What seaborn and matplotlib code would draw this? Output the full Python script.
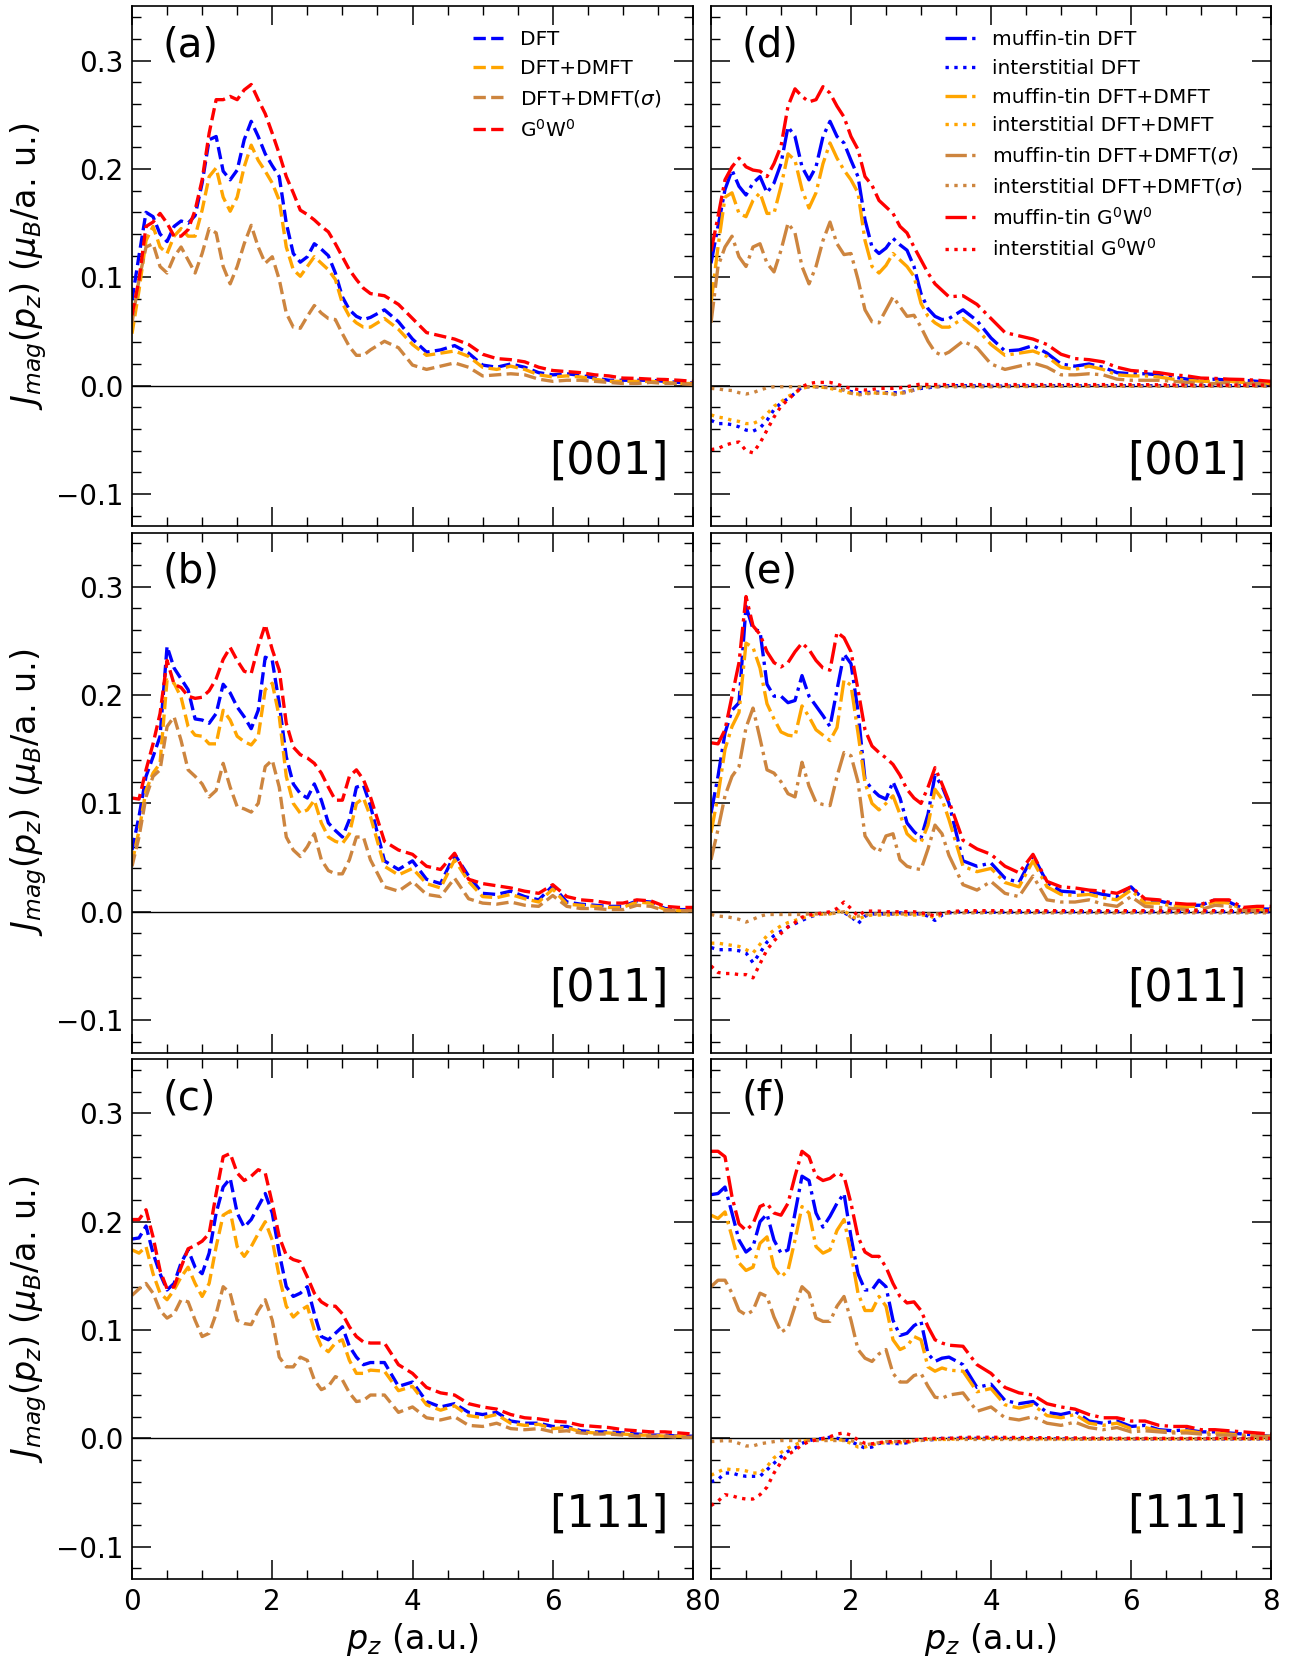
import numpy as np
import matplotlib
matplotlib.use("Agg")
import matplotlib.pyplot as plt
import seaborn as sns
from matplotlib.ticker import MultipleLocator

# ---------------- sampling grids (p_z in a.u.) ----------------
PZ = np.round(np.r_[np.arange(0.0, 3.45, 0.1), np.arange(3.6, 8.01, 0.2)], 2)      # 58 points
PZ_IS = np.round(np.r_[np.arange(0.0, 3.45, 0.1), [3.6, 4.0, 5.0, 6.0, 7.0, 8.0]], 2)  # 41 points

# ---------------- [001] total (panel a) ----------------
a_dft = [0.079,0.120,0.160,0.156,0.140,0.133,0.147,0.152,0.150,0.157,
         0.187,0.227,0.230,0.198,0.190,0.199,0.227,0.244,0.230,0.214,
         0.203,0.193,0.150,0.122,0.114,0.119,0.131,0.126,0.120,0.104,
         0.082,0.070,0.064,0.061,0.063,
         0.070,0.059,0.043,0.031,0.033,0.037,0.030,0.019,0.017,0.020,
         0.017,0.012,0.010,0.011,0.0095,0.007,0.005,0.005,0.005,0.005,
         0.004,0.003,0.0025]
a_dmft = [0.048,0.088,0.134,0.147,0.128,0.122,0.138,0.145,0.138,0.138,
          0.162,0.193,0.201,0.174,0.161,0.174,0.202,0.222,0.208,0.198,
          0.187,0.171,0.128,0.107,0.101,0.110,0.119,0.113,0.107,0.098,
          0.076,0.064,0.058,0.054,0.054,
          0.062,0.052,0.038,0.028,0.030,0.032,0.027,0.017,0.015,0.018,
          0.015,0.010,0.008,0.009,0.008,0.006,0.004,0.004,0.004,0.004,
          0.003,0.002,0.002]
a_sig = [0.058,0.098,0.128,0.131,0.110,0.104,0.119,0.128,0.116,0.104,
         0.122,0.145,0.141,0.110,0.094,0.110,0.131,0.148,0.128,0.113,
         0.119,0.098,0.067,0.054,0.053,0.064,0.074,0.067,0.062,0.061,
         0.048,0.036,0.028,0.028,0.033,
         0.041,0.035,0.019,0.015,0.018,0.021,0.017,0.009,0.010,0.011,
         0.010,0.006,0.004,0.005,0.005,0.004,0.003,0.002,0.002,0.003,
         0.002,0.002,0.001]
a_gw = [0.065,0.098,0.147,0.151,0.159,0.150,0.138,0.138,0.144,0.162,
        0.190,0.233,0.264,0.264,0.267,0.264,0.273,0.278,0.264,0.251,
        0.233,0.214,0.193,0.178,0.162,0.158,0.153,0.147,0.142,0.131,
        0.119,0.107,0.098,0.090,0.085,
        0.083,0.075,0.062,0.049,0.046,0.043,0.038,0.029,0.025,0.024,
        0.022,0.017,0.014,0.013,0.012,0.010,0.009,0.007,0.0067,0.006,
        0.0057,0.005,0.004]

# ---------------- [011] total (panel b) ----------------
b_dft = [0.057,0.088,0.125,0.143,0.162,0.245,0.225,0.215,0.205,0.178,
         0.177,0.174,0.183,0.210,0.202,0.189,0.180,0.169,0.186,0.235,
         0.232,0.192,0.143,0.118,0.109,0.105,0.118,0.103,0.082,0.075,
         0.069,0.085,0.115,0.117,0.098,
         0.047,0.039,0.047,0.030,0.026,0.053,0.033,0.017,0.016,0.019,
         0.014,0.011,0.024,0.009,0.007,0.006,0.005,0.005,0.010,0.009,
         0.003,0.002,0.002]
b_dmft = [0.045,0.075,0.112,0.128,0.137,0.214,0.211,0.198,0.171,0.163,
          0.162,0.155,0.155,0.186,0.177,0.162,0.157,0.154,0.162,0.205,
          0.211,0.180,0.125,0.100,0.091,0.094,0.103,0.082,0.069,0.065,
          0.063,0.072,0.100,0.105,0.088,
          0.042,0.034,0.040,0.026,0.022,0.048,0.028,0.014,0.013,0.016,
          0.012,0.009,0.021,0.007,0.006,0.005,0.004,0.004,0.009,0.008,
          0.002,0.001,0.001]
b_sig = [0.042,0.069,0.106,0.125,0.131,0.171,0.180,0.158,0.131,0.125,
         0.118,0.106,0.112,0.137,0.115,0.097,0.095,0.092,0.100,0.134,
         0.140,0.115,0.069,0.057,0.051,0.060,0.072,0.048,0.038,0.035,
         0.035,0.048,0.069,0.069,0.048,
         0.023,0.019,0.028,0.016,0.014,0.031,0.012,0.008,0.007,0.009,
         0.006,0.005,0.015,0.005,0.003,0.003,0.002,0.002,0.006,0.005,
         0.001,0.001,0.001]
b_gw = [0.105,0.104,0.131,0.155,0.183,0.232,0.210,0.207,0.199,0.197,
        0.198,0.204,0.215,0.233,0.244,0.232,0.222,0.220,0.245,0.265,
        0.242,0.223,0.174,0.152,0.145,0.142,0.137,0.128,0.115,0.103,
        0.103,0.125,0.131,0.122,0.106,
        0.065,0.057,0.053,0.042,0.039,0.054,0.030,0.026,0.024,0.022,
        0.019,0.017,0.025,0.014,0.011,0.010,0.008,0.008,0.011,0.010,
        0.005,0.004,0.004]

# ---------------- [111] total (panel c) ----------------
c_dft = [0.184,0.185,0.196,0.171,0.152,0.137,0.143,0.162,0.174,0.158,
         0.152,0.171,0.208,0.232,0.240,0.208,0.195,0.202,0.214,0.226,
         0.208,0.171,0.140,0.131,0.134,0.140,0.115,0.094,0.091,0.097,
         0.103,0.085,0.075,0.068,0.070,
         0.070,0.048,0.052,0.034,0.029,0.032,0.024,0.022,0.024,0.016,
         0.014,0.014,0.011,0.011,0.007,0.006,0.006,0.005,0.004,0.003,
         0.003,0.002,0.002]
c_dmft = [0.174,0.171,0.177,0.152,0.134,0.128,0.137,0.149,0.158,0.143,
          0.131,0.143,0.177,0.206,0.210,0.177,0.168,0.177,0.189,0.200,
          0.183,0.149,0.122,0.112,0.118,0.122,0.100,0.085,0.080,0.088,
          0.091,0.072,0.060,0.060,0.063,
          0.062,0.044,0.048,0.031,0.026,0.030,0.021,0.019,0.022,0.014,
          0.012,0.013,0.009,0.010,0.006,0.005,0.005,0.004,0.003,0.003,
          0.002,0.002,0.0015]
c_sig = [0.132,0.138,0.143,0.134,0.118,0.111,0.115,0.128,0.126,0.109,
         0.094,0.097,0.115,0.140,0.134,0.109,0.106,0.105,0.118,0.128,
         0.109,0.075,0.066,0.066,0.075,0.072,0.054,0.045,0.048,0.057,
         0.054,0.042,0.034,0.035,0.040,
         0.040,0.024,0.029,0.019,0.017,0.020,0.012,0.011,0.014,0.009,
         0.008,0.009,0.006,0.007,0.005,0.004,0.004,0.003,0.002,0.002,
         0.002,0.001,0.001]
c_gw = [0.202,0.202,0.211,0.186,0.155,0.138,0.140,0.158,0.175,0.178,
        0.182,0.189,0.226,0.260,0.263,0.245,0.238,0.242,0.248,0.245,
        0.217,0.186,0.169,0.165,0.163,0.149,0.134,0.126,0.122,0.122,
        0.115,0.103,0.094,0.089,0.088,
        0.088,0.068,0.060,0.047,0.042,0.040,0.032,0.029,0.027,0.022,
        0.019,0.018,0.016,0.015,0.012,0.011,0.010,0.008,0.007,0.006,
        0.006,0.005,0.004]

# ---------------- [001] muffin-tin / interstitial (panel d) ----------------
d_mt_dft = [0.113,0.147,0.181,0.199,0.184,0.176,0.187,0.193,0.178,0.187,
            0.205,0.239,0.230,0.202,0.190,0.202,0.230,0.244,0.230,0.224,
            0.208,0.193,0.153,0.128,0.122,0.127,0.136,0.130,0.125,0.110,
            0.085,0.071,0.064,0.061,0.062,
            0.070,0.060,0.044,0.032,0.033,0.037,0.030,0.020,0.018,0.020,
            0.017,0.012,0.011,0.011,0.010,0.008,0.006,0.005,0.006,0.005,
            0.005,0.004,0.003]
d_mt_dmft = [0.076,0.128,0.174,0.178,0.159,0.156,0.171,0.178,0.159,0.159,
             0.184,0.214,0.208,0.181,0.164,0.178,0.205,0.224,0.210,0.199,
             0.190,0.178,0.134,0.110,0.104,0.111,0.122,0.116,0.110,0.101,
             0.076,0.064,0.058,0.054,0.054,
             0.062,0.052,0.038,0.028,0.030,0.032,0.027,0.017,0.015,0.018,
             0.015,0.010,0.009,0.009,0.008,0.006,0.005,0.004,0.004,0.004,
             0.003,0.003,0.002]
d_mt_sig = [0.058,0.110,0.128,0.138,0.119,0.110,0.128,0.131,0.113,0.105,
            0.125,0.150,0.141,0.110,0.094,0.110,0.134,0.151,0.131,0.121,
            0.122,0.098,0.070,0.059,0.058,0.070,0.082,0.073,0.064,0.065,
            0.054,0.041,0.031,0.028,0.031,
            0.041,0.035,0.020,0.015,0.018,0.021,0.017,0.010,0.010,0.011,
            0.010,0.006,0.005,0.005,0.005,0.004,0.003,0.002,0.002,0.003,
            0.002,0.002,0.001]
d_mt_gw = [0.124,0.156,0.190,0.202,0.210,0.202,0.199,0.198,0.193,0.205,
           0.221,0.258,0.274,0.267,0.262,0.264,0.276,0.270,0.258,0.248,
           0.230,0.218,0.193,0.185,0.171,0.165,0.159,0.147,0.141,0.128,
           0.116,0.104,0.094,0.088,0.082,
           0.083,0.075,0.062,0.049,0.046,0.043,0.038,0.029,0.025,0.024,
           0.022,0.017,0.014,0.013,0.012,0.010,0.009,0.007,0.0067,0.006,
           0.0057,0.005,0.004]
d_is_dft = [-0.032,-0.035,-0.035,-0.036,-0.038,-0.041,-0.042,-0.039,-0.032,-0.022,
            -0.016,-0.012,-0.007,-0.001,-0.001,-0.001,-0.001,-0.0015,-0.0025,-0.004,
            -0.0055,-0.0065,-0.0065,-0.006,-0.006,-0.0065,-0.0065,-0.0065,-0.0055,-0.004,
            -0.0025,-0.002,-0.001,-0.0005,0.0,
            0.0,-0.0005,0.0,0.0,0.0,0.0]
d_is_dmft = [-0.027,-0.029,-0.030,-0.032,-0.033,-0.035,-0.035,-0.032,-0.026,-0.019,
             -0.015,-0.010,-0.0065,-0.0025,-0.001,-0.001,-0.0015,-0.0025,-0.004,-0.0055,
             -0.007,-0.0077,-0.007,-0.0065,-0.007,-0.007,-0.0077,-0.007,-0.0055,-0.0035,
             -0.002,-0.001,-0.001,-0.0005,0.0,
             0.0,-0.0005,0.0,0.0,0.0,0.0]
d_is_sig = [-0.0025,-0.003,-0.004,-0.0045,-0.0065,-0.0077,-0.0065,-0.004,-0.002,-0.001,
            -0.001,-0.001,-0.001,-0.001,-0.001,-0.001,-0.0015,-0.002,-0.0025,-0.004,
            -0.007,-0.0086,-0.0077,-0.007,-0.007,-0.007,-0.0086,-0.007,-0.0065,-0.004,
            -0.0015,-0.001,-0.001,-0.001,-0.001,
            -0.001,-0.001,-0.0005,-0.0005,-0.0005,-0.0005]
d_is_gw = [-0.059,-0.058,-0.055,-0.053,-0.052,-0.060,-0.062,-0.053,-0.041,-0.029,
           -0.019,-0.013,-0.007,-0.001,0.002,0.003,0.003,0.003,0.0015,-0.001,
           -0.0025,-0.0035,-0.004,-0.0035,-0.0025,-0.0025,-0.0025,-0.002,-0.001,0.0005,
           0.0015,0.001,0.001,0.001,0.001,
           0.001,0.001,0.001,0.001,0.0005,0.0005]

# ---------------- [011] muffin-tin / interstitial (panel e) ----------------
e_mt_dft = [0.091,0.125,0.165,0.186,0.193,0.282,0.261,0.259,0.210,0.199,
            0.199,0.193,0.195,0.218,0.199,0.190,0.181,0.171,0.205,0.238,
            0.229,0.185,0.122,0.113,0.107,0.104,0.120,0.105,0.082,0.074,
            0.068,0.090,0.126,0.116,0.100,
            0.047,0.042,0.045,0.031,0.027,0.052,0.027,0.019,0.018,0.019,
            0.016,0.014,0.023,0.010,0.010,0.007,0.006,0.006,0.011,0.009,
            0.003,0.0025,0.0025]
e_mt_dmft = [0.073,0.107,0.150,0.171,0.184,0.248,0.244,0.225,0.192,0.178,
             0.166,0.163,0.162,0.190,0.180,0.168,0.163,0.158,0.170,0.214,
             0.209,0.165,0.119,0.100,0.094,0.100,0.107,0.090,0.072,0.066,
             0.064,0.080,0.113,0.104,0.085,
             0.042,0.037,0.040,0.027,0.023,0.047,0.023,0.016,0.015,0.016,
             0.013,0.011,0.020,0.008,0.008,0.005,0.005,0.005,0.009,0.008,
             0.002,0.002,0.002]
e_mt_sig = [0.048,0.076,0.107,0.125,0.134,0.170,0.188,0.160,0.131,0.128,
            0.120,0.109,0.106,0.138,0.116,0.101,0.099,0.098,0.125,0.147,
            0.144,0.120,0.070,0.060,0.055,0.070,0.072,0.048,0.042,0.040,
            0.039,0.058,0.080,0.072,0.052,
            0.025,0.020,0.028,0.017,0.014,0.033,0.011,0.009,0.009,0.011,
            0.007,0.005,0.014,0.005,0.004,0.003,0.002,0.002,0.006,0.005,
            0.001,0.001,0.001]
e_mt_gw = [0.156,0.155,0.168,0.199,0.230,0.291,0.264,0.256,0.240,0.230,
           0.226,0.230,0.240,0.248,0.242,0.232,0.225,0.223,0.258,0.253,
           0.240,0.205,0.168,0.153,0.147,0.142,0.136,0.126,0.113,0.105,
           0.100,0.115,0.133,0.118,0.102,
           0.066,0.058,0.053,0.042,0.036,0.053,0.028,0.023,0.022,0.020,
           0.019,0.017,0.023,0.012,0.011,0.008,0.007,0.007,0.011,0.011,
           0.004,0.005,0.005]
e_is_dft = [-0.033,-0.035,-0.035,-0.035,-0.036,-0.038,-0.047,-0.038,-0.028,-0.022,
            -0.018,-0.014,-0.011,-0.008,-0.005,-0.003,-0.002,-0.0015,0.001,-0.001,
            -0.004,-0.011,-0.004,-0.002,-0.002,-0.002,-0.002,-0.001,-0.002,-0.002,
            -0.002,-0.004,-0.008,-0.003,-0.001,
            0.0,-0.0005,0.0,0.0,0.0,0.0]
e_is_dmft = [-0.029,-0.029,-0.030,-0.031,-0.032,-0.035,-0.038,-0.030,-0.022,-0.017,
             -0.013,-0.010,-0.008,-0.006,-0.004,-0.003,-0.002,-0.002,0.0,0.001,
             -0.004,-0.007,-0.004,-0.003,-0.003,-0.003,-0.003,-0.002,-0.003,-0.003,
             -0.003,-0.003,-0.006,-0.002,-0.001,
             0.0,-0.0005,0.0,0.0,0.0,0.0]
e_is_sig = [-0.0025,-0.004,-0.0045,-0.0055,-0.007,-0.0095,-0.007,-0.004,-0.0025,-0.0025,
            -0.0025,-0.0025,-0.0025,-0.0025,-0.002,-0.002,-0.002,-0.002,-0.001,0.0,
            -0.005,-0.004,-0.003,-0.002,-0.002,-0.002,-0.002,-0.002,-0.002,-0.002,
            -0.002,-0.002,-0.002,-0.002,-0.001,
            -0.001,-0.001,-0.001,-0.001,-0.001,-0.001]
e_is_gw = [-0.050,-0.056,-0.057,-0.057,-0.058,-0.058,-0.061,-0.048,-0.035,-0.027,
           -0.020,-0.014,-0.010,-0.005,-0.003,-0.002,-0.001,0.0,0.003,0.009,
           0.003,-0.004,0.0006,0.0006,0.0006,0.0,0.0,0.0,0.0,0.0,
           -0.001,-0.002,-0.004,-0.001,0.0,
           0.001,0.001,0.001,0.001,0.001,0.001]

# ---------------- [111] muffin-tin / interstitial (panel f) ----------------
f_mt_dft = [0.225,0.226,0.232,0.208,0.183,0.172,0.177,0.200,0.207,0.183,
            0.171,0.174,0.208,0.242,0.238,0.208,0.195,0.205,0.217,0.226,
            0.186,0.152,0.137,0.137,0.146,0.140,0.109,0.095,0.097,0.104,
            0.108,0.078,0.071,0.074,0.075,
            0.068,0.047,0.050,0.035,0.032,0.034,0.024,0.022,0.025,0.016,
            0.014,0.016,0.011,0.012,0.008,0.007,0.008,0.006,0.006,0.005,
            0.004,0.003,0.002]
f_mt_dmft = [0.206,0.203,0.209,0.186,0.162,0.155,0.158,0.180,0.186,0.158,
             0.149,0.155,0.183,0.214,0.208,0.177,0.171,0.174,0.192,0.202,
             0.171,0.134,0.118,0.118,0.131,0.122,0.091,0.082,0.085,0.094,
             0.091,0.066,0.062,0.065,0.063,
             0.062,0.043,0.046,0.031,0.028,0.031,0.021,0.019,0.022,0.014,
             0.012,0.014,0.009,0.010,0.007,0.006,0.007,0.005,0.005,0.004,
             0.003,0.002,0.002]
f_mt_sig = [0.140,0.146,0.146,0.134,0.118,0.114,0.118,0.134,0.131,0.112,
            0.098,0.102,0.122,0.140,0.134,0.111,0.108,0.108,0.122,0.131,
            0.109,0.082,0.074,0.071,0.078,0.082,0.060,0.052,0.052,0.058,
            0.060,0.048,0.038,0.037,0.040,
            0.042,0.025,0.029,0.019,0.017,0.020,0.014,0.012,0.015,0.010,
            0.008,0.010,0.006,0.007,0.006,0.005,0.005,0.004,0.003,0.003,
            0.002,0.002,0.001]
f_mt_gw = [0.265,0.265,0.260,0.223,0.198,0.192,0.198,0.214,0.217,0.208,
           0.206,0.217,0.242,0.265,0.260,0.242,0.238,0.240,0.245,0.242,
           0.217,0.186,0.172,0.168,0.168,0.158,0.143,0.131,0.125,0.126,
           0.118,0.103,0.091,0.088,0.086,
           0.085,0.068,0.060,0.047,0.042,0.040,0.032,0.029,0.027,0.022,
           0.019,0.019,0.016,0.016,0.012,0.011,0.011,0.008,0.008,0.007,
           0.006,0.005,0.004]
f_is_dft = [-0.040,-0.038,-0.032,-0.032,-0.034,-0.035,-0.035,-0.035,-0.029,-0.023,
            -0.017,-0.012,-0.009,-0.0046,-0.002,-0.001,0.0,0.001,0.0,-0.001,
            -0.003,-0.006,-0.009,-0.008,-0.0046,-0.004,-0.0046,-0.005,-0.004,-0.002,
            -0.0015,-0.0015,-0.001,0.0,0.0,
            0.0,0.0,-0.0005,-0.0005,-0.0005,-0.0005]
f_is_dmft = [-0.034,-0.031,-0.028,-0.029,-0.029,-0.030,-0.032,-0.032,-0.026,-0.018,
             -0.013,-0.009,-0.006,-0.003,-0.0015,-0.001,-0.001,-0.001,-0.001,-0.002,
             -0.0046,-0.008,-0.008,-0.006,-0.0046,-0.004,-0.004,-0.004,-0.004,-0.002,
             -0.001,-0.001,-0.001,-0.001,-0.001,
             0.0,0.0,-0.0005,-0.0005,-0.0005,-0.0005]
f_is_sig = [-0.003,-0.0025,-0.002,-0.0025,-0.0046,-0.007,-0.007,-0.005,-0.004,-0.003,
            -0.002,-0.002,-0.002,-0.002,-0.002,-0.002,-0.002,-0.002,-0.002,-0.002,
            -0.002,-0.004,-0.006,-0.005,-0.004,-0.003,-0.003,-0.003,-0.002,-0.002,
            -0.002,-0.001,-0.001,-0.001,-0.001,
            -0.001,-0.001,-0.001,-0.0005,-0.0005,-0.0005]
f_is_gw = [-0.062,-0.058,-0.052,-0.053,-0.055,-0.056,-0.056,-0.052,-0.045,-0.032,
           -0.022,-0.015,-0.011,-0.006,-0.003,-0.0015,0.0,0.0015,0.004,0.005,
           0.003,-0.0015,-0.0046,-0.005,-0.004,-0.003,-0.003,-0.003,-0.003,-0.0015,
           -0.001,0.0,0.0,0.0,0.0,
           0.001,0.001,0.0005,0.0,0.0,0.0]

# ---------------- labels / styles ----------------
methods = ["DFT", "DFT+DMFT", r"DFT+DMFT($\sigma$)", r"G$^0$W$^0$"]
colors = ["#0000ff", "#ffa500", "#cd853f", "#ff0000"]
directions = ["[001]", "[011]", "[111]"]
left_letters = ["(a)", "(b)", "(c)"]
right_letters = ["(d)", "(e)", "(f)"]

total_data = [[a_dft, a_dmft, a_sig, a_gw],
              [b_dft, b_dmft, b_sig, b_gw],
              [c_dft, c_dmft, c_sig, c_gw]]
mt_data = [[d_mt_dft, d_mt_dmft, d_mt_sig, d_mt_gw],
           [e_mt_dft, e_mt_dmft, e_mt_sig, e_mt_gw],
           [f_mt_dft, f_mt_dmft, f_mt_sig, f_mt_gw]]
is_data = [[d_is_dft, d_is_dmft, d_is_sig, d_is_gw],
           [e_is_dft, e_is_dmft, e_is_sig, e_is_gw],
           [f_is_dft, f_is_dmft, f_is_sig, f_is_gw]]

sns.set_style("ticks")
plt.rcParams["font.family"] = ["DejaVu Sans"]
plt.rcParams["mathtext.fontset"] = "dejavusans"
plt.rcParams["axes.linewidth"] = 1.2
plt.rcParams["axes.edgecolor"] = "black"
plt.rcParams["text.color"] = "black"
plt.rcParams["axes.labelcolor"] = "black"
plt.rcParams["xtick.color"] = "black"
plt.rcParams["ytick.color"] = "black"

W, H = 1297, 1660
fig = plt.figure(figsize=(W / 100, H / 100), dpi=100)
col_left = [132, 711]
col_width = [561, 560]
row_top = [6.5, 532.6, 1059.2]
row_h = 520
LW = 2.4

for r in range(3):
    for c in range(2):
        ax = fig.add_axes([col_left[c] / W, 1 - (row_top[r] + row_h) / H,
                           col_width[c] / W, row_h / H])
        ax.axhline(0, color="black", lw=1.0, zorder=1)
        if c == 0:
            for i in range(4):
                sns.lineplot(x=PZ, y=total_data[r][i], ax=ax, color=colors[i],
                             linestyle="--", linewidth=LW, label=methods[i],
                             legend=False, errorbar=None)
        else:
            for i in range(4):
                sns.lineplot(x=PZ, y=mt_data[r][i], ax=ax, color=colors[i],
                             linestyle="-.", linewidth=LW,
                             label="muffin-tin " + methods[i],
                             legend=False, errorbar=None)
                sns.lineplot(x=PZ_IS, y=is_data[r][i], ax=ax, color=colors[i],
                             linestyle=":", linewidth=LW,
                             label="interstitial " + methods[i],
                             legend=False, errorbar=None)
        ax.set_xlim(0, 8)
        ax.set_ylim(-0.13, 0.35)
        ax.xaxis.set_major_locator(MultipleLocator(2))
        ax.xaxis.set_minor_locator(MultipleLocator(0.5))
        ax.yaxis.set_major_locator(MultipleLocator(0.1))
        ax.yaxis.set_minor_locator(MultipleLocator(0.02))
        ax.tick_params(which="both", direction="in", top=True, right=True,
                       colors="black", labelcolor="black")
        ax.tick_params(which="major", length=13.5, width=1.1, labelsize=20, pad=6)
        ax.tick_params(which="minor", length=6.5, width=1.0)
        ax.tick_params(labelbottom=(r == 2), labelleft=(c == 0))
        for sp in ax.spines.values():
            sp.set_color("black")
        ax.set_xlabel("")
        ax.set_ylabel("")
        if c == 0:
            ax.set_ylabel(r"$J_{mag}(p_z)$ ($\mu_B$/a. u.)", fontsize=24,
                          color="black")
            ax.yaxis.set_label_coords(-0.148, 0.5)
        if r == 2:
            ax.set_xlabel(r"$p_z$ (a.u.)", fontsize=24, labelpad=4, color="black")
        letter = left_letters[r] if c == 0 else right_letters[r]
        ax.text(0.055, 0.925, letter, transform=ax.transAxes, fontsize=29,
                ha="left", va="center", color="black")
        ax.text(0.957, 0.125, directions[r], transform=ax.transAxes, fontsize=32,
                ha="right", va="center", color="black")
        if r == 0:
            anchor_x = 0.608 if c == 0 else 0.418
            leg = ax.legend(loc="upper left", bbox_to_anchor=(anchor_x, 0.954),
                            frameon=False, fontsize=14.5, handlelength=1.5,
                            handletextpad=0.85, labelspacing=0.48, borderpad=0,
                            borderaxespad=0)
            for t in leg.get_texts():
                t.set_color("black")

fig.savefig("out.png", dpi=100)
